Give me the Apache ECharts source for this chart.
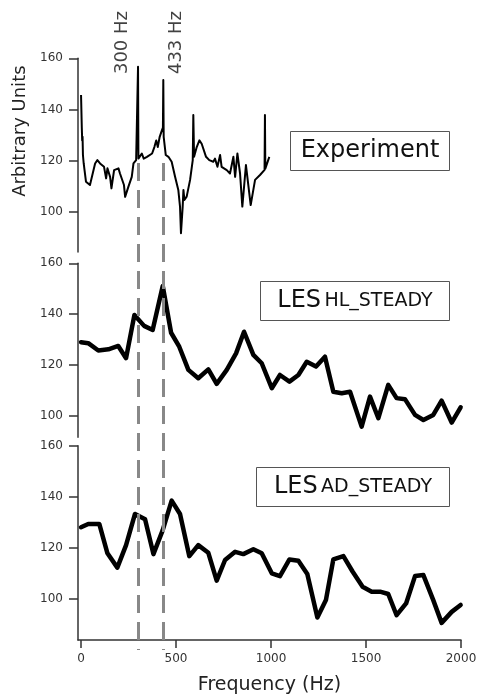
<!DOCTYPE html>
<html><head><meta charset="utf-8">
<script src="https://cdn.jsdelivr.net/npm/echarts@6/dist/echarts.min.js"></script>
<style>html,body{margin:0;padding:0;background:#fff}#c{width:482px;height:698px}</style>
</head><body><div id="c"></div>
<script>
// ---- Data ----
const expFreq = [0,4,6,8,10,14,26,47,51,74,86,100,109,121,132,139,153,160,174,197,205,226,232,249,267,276,290,298,300,302,312,320,330,347,374,386,396,404,414,426,431,433,435,446,460,469,477,495,512,521,526,535,539,544,556,574,588,591,595,609,623,635,658,675,696,705,718,732,740,767,784,802,811,823,837,849,868,893,916,942,951,966,968,970,991];
const expVal  = [145.7,133,128,129.4,122.3,119.0,111.9,110.6,110.0,119.0,120.3,119.0,119.7,117.7,113.2,117.1,113.8,109.3,116.4,117.1,115.1,110.6,106.0,109.9,113.8,119.0,120.3,120.9,156.7,120.9,121.6,122.9,120.9,121.6,122.9,125.4,128.0,125.4,129.4,132.0,133,151.5,129.4,122.3,121.6,122.3,119.7,113.8,108.7,102.2,91.8,102.2,108.7,104.8,106.1,112.6,120.3,137.9,121.6,125.4,128.0,126.7,121.6,120.3,119.7,120.9,117.7,122.3,117.7,116.4,115.1,121.6,113.8,122.9,115.1,102.2,118.4,102.8,112.6,114.5,113.8,116.5,137.9,117,121.6];

const hlFreq = [0,38,91,144,196,237,281,332,377,430,474,517,565,617,670,714,767,816,858,907,951,1004,1047,1097,1144,1188,1237,1284,1328,1372,1416,1477,1521,1565,1617,1661,1705,1758,1802,1854,1898,1951,1998];
const hlVal  = [129.0,128.6,125.7,126.2,127.5,122.7,139.7,135.4,133.8,151.1,132.7,127.2,118.1,114.8,118.3,112.6,118.1,124.6,133.1,124.0,120.7,110.9,116.1,113.5,116.1,121.3,119.4,123.3,109.5,108.9,109.5,95.8,107.6,99.1,112.2,107.0,106.6,100.4,98.4,100.4,106.0,97.4,103.4];

const adFreq = [0,38,96,139,191,237,284,337,381,430,477,521,570,617,670,714,758,811,854,907,951,1004,1047,1097,1144,1191,1244,1289,1328,1381,1430,1482,1530,1574,1617,1661,1711,1758,1802,1854,1898,1951,1998];
const adVal  = [128.1,129.4,129.4,117.9,112.3,121.1,133.3,131.2,117.6,127.0,138.5,133.3,116.8,121.1,118.1,107.2,115.3,118.5,117.6,119.5,117.9,110.1,109.0,115.5,115.0,109.8,92.8,99.6,115.5,116.8,110.7,104.8,102.9,102.9,102.0,93.7,98.3,109.0,109.4,99.6,90.7,95.0,97.7];

const xTicks = [0,500,1000,1500,2000];
const yTicks = [100,120,140,160];
const markerFreqs = [300,433];
const markerLabels = ['300 Hz','433 Hz'];

// ---- Chart ----
const FONT = 'DejaVu Sans';
const zip = (a,b) => a.map((x,i)=>[x,b[i]]);
const XMIN = -16, XMAX = 2000;
const L = 78, W = 383;
const plain = v => String(v);

function yAx(gi, min, max, extra) {
  return Object.assign({
    type:'value', gridIndex:gi, min:min, max:max,
    axisLine:{show:true, onZero:false, lineStyle:{color:'#333', width:1.5}},
    axisTick:{show:true, length:9, customValues:yTicks, lineStyle:{color:'#333', width:1.5}},
    axisLabel:{show:true, customValues:yTicks, formatter:plain, margin:15, fontFamily:FONT, fontSize:12, color:'#333'},
    splitLine:{show:false}
  }, extra||{});
}
function xHidden(gi){ return {type:'value', gridIndex:gi, min:XMIN, max:XMAX, show:false, splitLine:{show:false}}; }

const chart = echarts.init(document.getElementById('c'), null, {renderer:'canvas'});
chart.setOption({
  animation:false,
  backgroundColor:'#fff',
  grid:[
    {left:L, top:58.3, width:W, height:193.7},
    {left:L, top:263.3, width:W, height:174},
    {left:L, top:445.7, width:W, height:194.3},
    {left:L, top:0, width:W, height:698}
  ],
  xAxis:[
    xHidden(0), xHidden(1),
    {type:'value', gridIndex:2, min:XMIN, max:XMAX,
     axisLine:{show:true, onZero:false, lineStyle:{color:'#333', width:1.5}},
     axisTick:{show:true, length:8, customValues:xTicks, lineStyle:{color:'#333', width:1.5}},
     axisLabel:{show:true, customValues:xTicks, formatter:plain, margin:13, fontFamily:FONT, fontSize:12, color:'#333'},
     splitLine:{show:false},
     name:'Frequency (Hz)', nameLocation:'middle', nameGap:36,
     nameTextStyle:{fontFamily:FONT, fontSize:19, color:'#222'}},
    xHidden(3)
  ],
  yAxis:[
    yAx(0, 84.5, 160, {name:'Arbitrary Units', nameLocation:'middle', nameGap:34,
      nameTextStyle:{fontFamily:FONT, fontSize:18, color:'#222', padding:[0,0,0,48]}}),
    yAx(1, 91.6, 160),
    yAx(2, 84.0, 160),
    {type:'value', gridIndex:3, min:0, max:698, inverse:true, show:false, splitLine:{show:false}}
  ],
  series:[
    {type:'line', name:'Experiment', xAxisIndex:0, yAxisIndex:0, data:zip(expFreq,expVal),
     symbol:'none', lineStyle:{color:'#000', width:2, join:'round'}},
    {type:'line', name:'LES HL_STEADY', xAxisIndex:1, yAxisIndex:1, data:zip(hlFreq,hlVal),
     symbol:'none', lineStyle:{color:'#000', width:4.5, join:'round', cap:'round'}},
    {type:'line', name:'LES AD_STEADY', xAxisIndex:2, yAxisIndex:2, data:zip(adFreq,adVal),
     symbol:'none', lineStyle:{color:'#000', width:4.5, join:'round', cap:'round'}},
    {type:'scatter', xAxisIndex:3, yAxisIndex:3, symbolSize:0, silent:true,
     data: markerFreqs.map((f,i)=>({value:[f,42.5],
       label:{show:true, formatter:markerLabels[i], rotate:90, position:'inside',
              offset:[0, i===0?-16:13], fontFamily:FONT, fontSize:18, color:'#111'}})),
     markLine:{silent:true, symbol:'none', label:{show:false},
       lineStyle:{color:'#888', width:3, type:[18,9]},
       data: markerFreqs.map(f=>[{coord:[f,163]},{coord:[f,650]}])}
    }
  ],
  graphic:[
    {type:'rect', shape:{x:290.5,y:131.5,width:159,height:39}, style:{fill:'#fff', stroke:'#555', lineWidth:1}},
    {type:'text', x:370, y:151, style:{text:'Experiment', font:'24px "DejaVu Sans"', fill:'#111', align:'center', verticalAlign:'middle'}},
    {type:'rect', shape:{x:260.5,y:281.5,width:189,height:39}, style:{fill:'#fff', stroke:'#555', lineWidth:1}},
    {type:'text', x:355, y:301, style:{text:'{a|LES} {b|HL_STEADY}', align:'center', verticalAlign:'middle',
      rich:{a:{fontFamily:FONT, fontSize:24, fill:'#111', color:'#111'}, b:{fontFamily:FONT, fontSize:19, fill:'#111', color:'#111'}}}},
    {type:'rect', shape:{x:256.5,y:467.5,width:193,height:39}, style:{fill:'#fff', stroke:'#555', lineWidth:1}},
    {type:'text', x:353, y:487, style:{text:'{a|LES} {b|AD_STEADY}', align:'center', verticalAlign:'middle',
      rich:{a:{fontFamily:FONT, fontSize:24, fill:'#111', color:'#111'}, b:{fontFamily:FONT, fontSize:19, fill:'#111', color:'#111'}}}}
  ]
});
</script>
</body></html>
